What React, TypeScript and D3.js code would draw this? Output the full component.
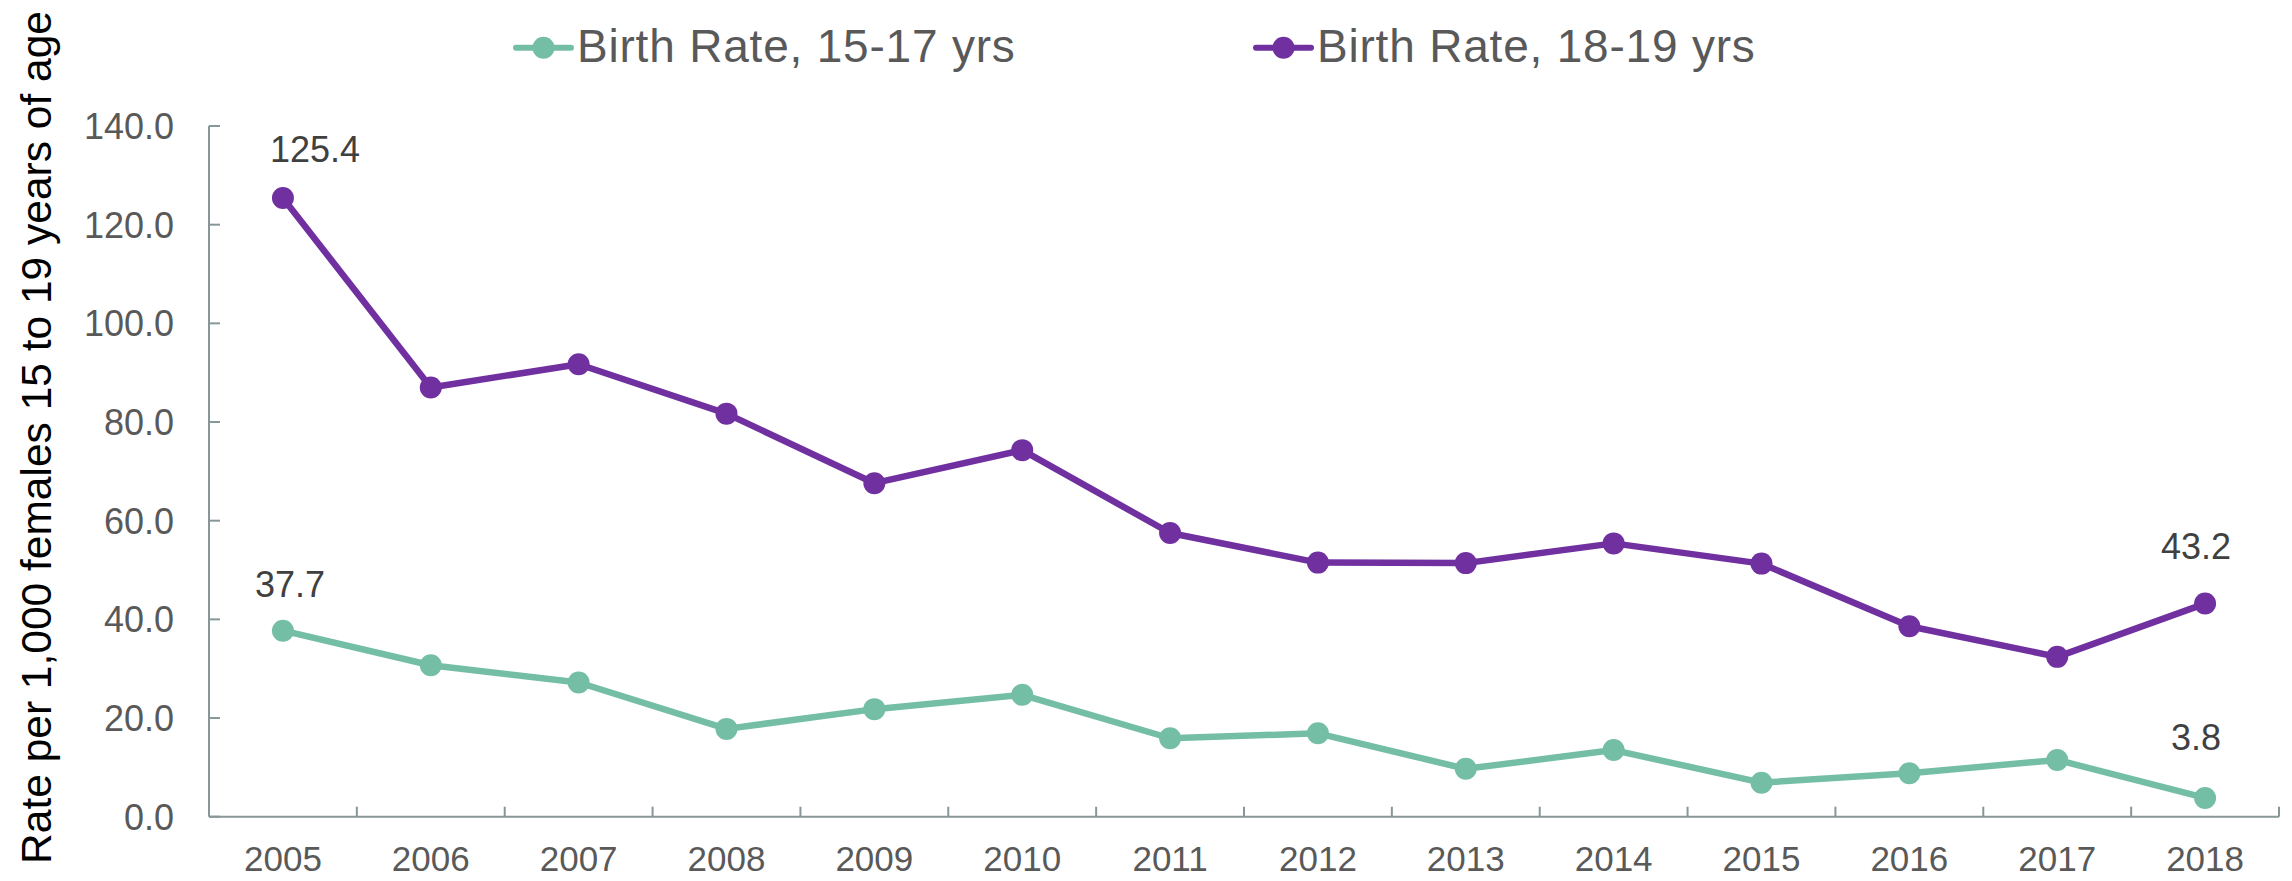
import React from 'react';
import * as d3 from 'd3';

const years = ['2005', '2006', '2007', '2008', '2009', '2010', '2011', '2012', '2013', '2014', '2015', '2016', '2017', '2018'];
const rate1517 = [37.7, 30.7, 27.2, 17.8, 21.8, 24.7, 15.9, 16.9, 9.7, 13.5, 6.9, 8.8, 11.5, 3.8];
const rate1819 = [125.4, 87.0, 91.7, 81.7, 67.6, 74.3, 57.5, 51.5, 51.4, 55.4, 51.3, 38.6, 32.4, 43.2];
const yTicks = [0, 20, 40, 60, 80, 100, 120, 140];
const seriesNames = ['Birth Rate, 15-17 yrs', 'Birth Rate, 18-19 yrs'];
const seriesColors = ['#75BEA6', '#7030A0'];
const yTitle = 'Rate per 1,000 females 15 to 19 years of age';

// data labels shown (series index, point index) with small placement offsets
const labelSpec = [
  { s: 1, i: 0, dx: 32, dy: -36 },
  { s: 0, i: 0, dx: 7, dy: -34 },
  { s: 1, i: 13, dx: -9, dy: -45 },
  { s: 0, i: 13, dx: -9, dy: -48 },
];

const W = 2292;
const H = 881;
const left = 209;
const right = 2279;
const bottom = 816.7;
const top = 126;
const axisColor = '#879797';
const font = '"Liberation Sans", Arial, sans-serif';

export default function App() {
  const x = d3.scaleBand<string>().domain(years).range([left, right]).padding(0);
  const y = d3.scaleLinear().domain([0, 140]).range([bottom, top]);
  const cx = (yr: string) => (x(yr) as number) + x.bandwidth() / 2;
  const series = [rate1517, rate1819];
  const line = d3
    .line<number>()
    .x((_, i) => cx(years[i]))
    .y((d) => y(d));

  const boundaries = years.map((yr) => (x(yr) as number) + x.bandwidth());

  const legendX = [516, 1256];
  const legendY = 47.7;

  return (
    <div style={{ position: 'absolute', left: 0, top: 0, width: W, height: H, background: '#fff' }}>
      <svg width={W} height={H} style={{ display: 'block' }}>
        <rect x={0} y={0} width={W} height={H} fill="#fff" />
        {/* y axis */}
        <line x1={left} x2={left} y1={top} y2={bottom} stroke={axisColor} strokeWidth={2} />
        {yTicks.map((t) => (
          <g key={t}>
            <line x1={left} x2={left + 11} y1={y(t)} y2={y(t)} stroke={axisColor} strokeWidth={2} />
            <text
              x={174}
              y={y(t) + 13}
              textAnchor="end"
              fontFamily={font}
              fontSize={36}
              fill="#595959"
            >
              {d3.format('.1f')(t)}
            </text>
          </g>
        ))}
        {/* x axis */}
        <line x1={left} x2={right} y1={bottom} y2={bottom} stroke={axisColor} strokeWidth={2} />
        {boundaries.map((b, i) => (
          <line key={i} x1={b} x2={b} y1={bottom} y2={bottom - 10} stroke={axisColor} strokeWidth={2} />
        ))}
        {years.map((yr) => (
          <text key={yr} x={cx(yr)} y={871} textAnchor="middle" fontFamily={font} fontSize={35} fill="#595959">
            {yr}
          </text>
        ))}
        {/* y title */}
        <text
          transform={`translate(51, 437.5) rotate(-90)`}
          textAnchor="middle"
          fontFamily={font}
          fontSize={42.5}
          fill="#000"
        >
          {yTitle}
        </text>
        {/* series */}
        {series.map((vals, s) => (
          <g key={s}>
            <path d={line(vals) as string} fill="none" stroke={seriesColors[s]} strokeWidth={6.5} strokeLinejoin="round" />
            {vals.map((v, i) => (
              <circle key={i} cx={cx(years[i])} cy={y(v)} r={11} fill={seriesColors[s]} />
            ))}
          </g>
        ))}
        {/* data labels */}
        {labelSpec.map((l, k) => {
          const v = series[l.s][l.i];
          return (
            <text
              key={k}
              x={cx(years[l.i]) + l.dx}
              y={y(v) + l.dy}
              textAnchor="middle"
              fontFamily={font}
              fontSize={36}
              fill="#404040"
            >
              {d3.format('.1f')(v)}
            </text>
          );
        })}
        {/* legend */}
        {seriesNames.map((name, s) => (
          <g key={name}>
            <line
              x1={legendX[s]}
              x2={legendX[s] + 55}
              y1={legendY}
              y2={legendY}
              stroke={seriesColors[s]}
              strokeWidth={6}
              strokeLinecap="round"
            />
            <circle cx={legendX[s] + 27.5} cy={legendY} r={11} fill={seriesColors[s]} />
            <text
              x={legendX[s] + 61}
              y={61.7}
              fontFamily={font}
              fontSize={46}
              letterSpacing={0.8}
              fill="#595959"
            >
              {name}
            </text>
          </g>
        ))}
      </svg>
    </div>
  );
}
